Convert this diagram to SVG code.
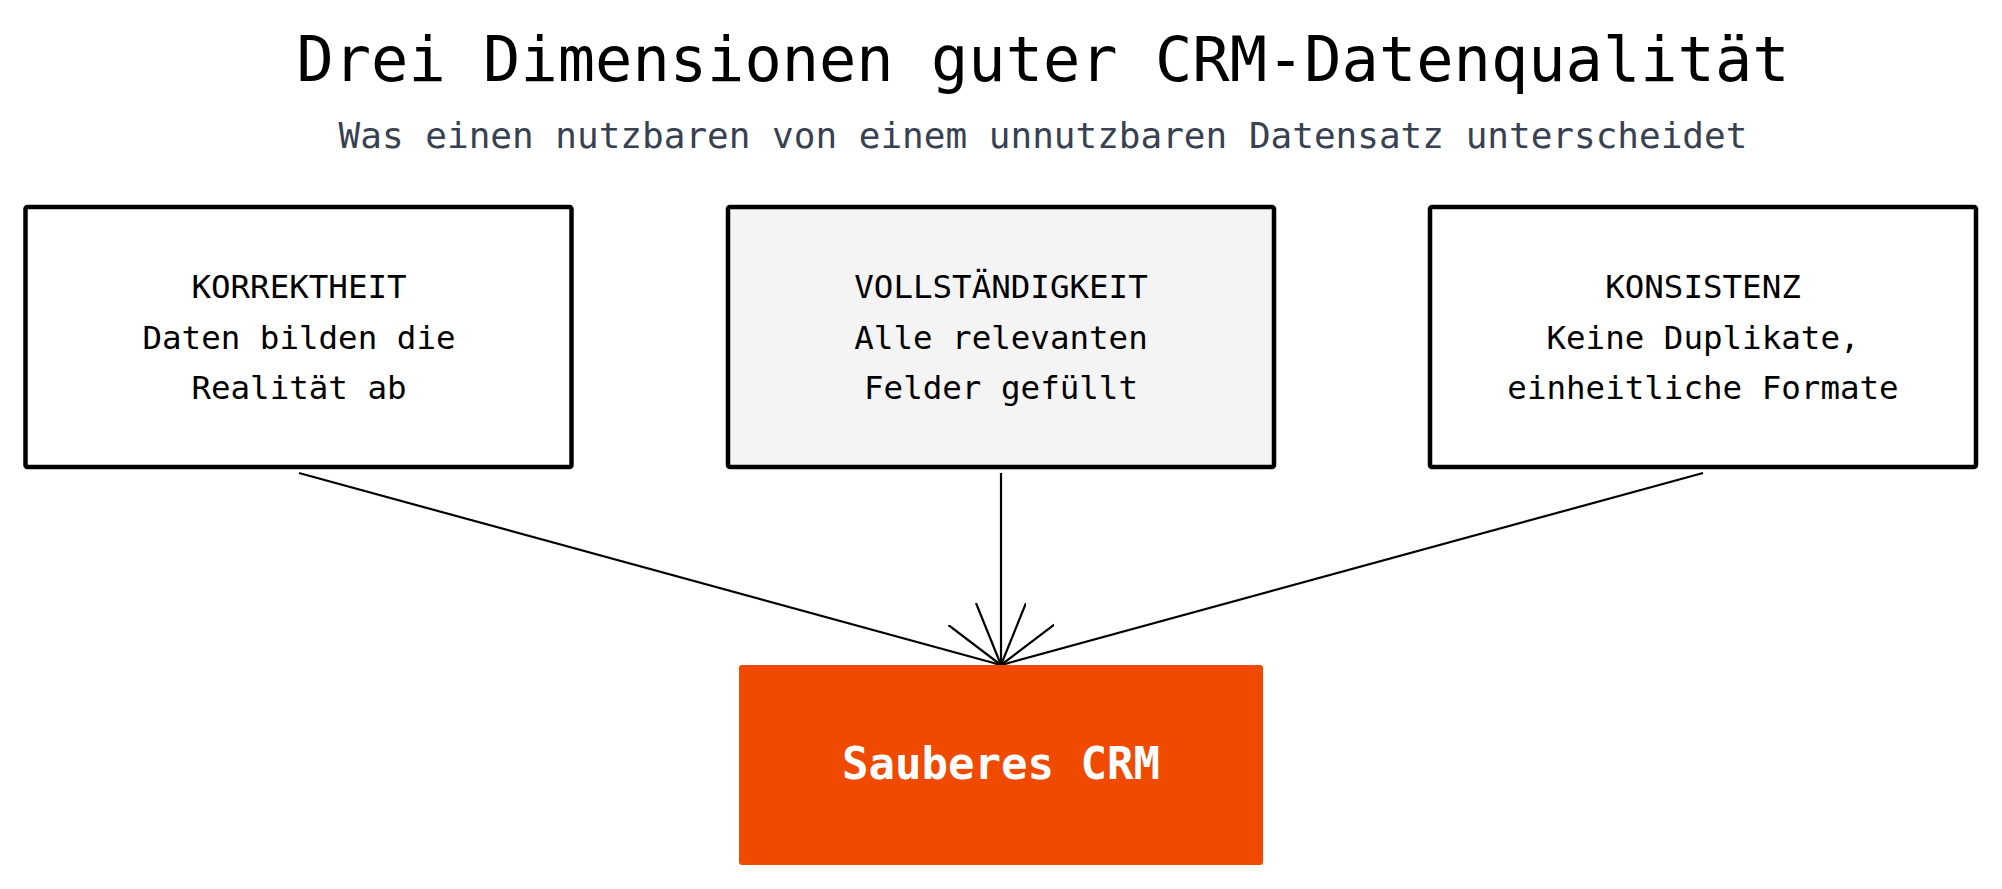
<svg xmlns="http://www.w3.org/2000/svg" width="2002" height="889" viewBox="0 0 2002 889">
<style>
text{font-family:"DejaVu Sans Mono","Liberation Mono",monospace;text-anchor:middle}
.t{font-size:62px;fill:#000}
.s{font-size:36px;fill:#374151}
.b{font-size:32.5px;fill:#000}
.box{stroke:#000;stroke-width:4.5;stroke-linejoin:round}
.c{stroke:#000;stroke-width:2.2;fill:none}
</style>
<defs>
<marker id="a" markerUnits="userSpaceOnUse" markerWidth="80" markerHeight="80" refX="62" refY="25" orient="auto">
<path d="M0,0 L62,25 L0,50" fill="none" stroke="#000" stroke-width="2.2"/>
</marker>
</defs>
<rect width="2002" height="889" fill="#fff"/>
<text class="t" x="1043" y="81">Drei Dimensionen guter CRM-Datenqualität</text>
<text class="s" x="1043" y="148">Was einen nutzbaren von einem unnutzbaren Datensatz unterscheidet</text>
<g id="connectors">
<line class="c" x1="299" y1="473" x2="1001" y2="665" marker-end="url(#a)"/>
<line class="c" x1="1001" y1="473" x2="1001" y2="665" marker-end="url(#a)"/>
<line class="c" x1="1703" y1="473" x2="1001" y2="665" marker-end="url(#a)"/>
</g>
<g id="korrektheit">
<rect class="box" x="25.5" y="207" width="546" height="260" fill="#fff" rx="2"/>
<text class="b" x="299" y="298">KORREKTHEIT</text>
<text class="b" x="299" y="349">Daten bilden die</text>
<text class="b" x="299" y="399">Realität ab</text>
</g>
<g id="vollstaendigkeit">
<rect class="box" x="728" y="207" width="546" height="260" fill="#f4f4f4" rx="2"/>
<text class="b" x="1001" y="298">VOLLSTÄNDIGKEIT</text>
<text class="b" x="1001" y="349">Alle relevanten</text>
<text class="b" x="1001" y="399">Felder gefüllt</text>
</g>
<g id="konsistenz">
<rect class="box" x="1430" y="207" width="546" height="260" fill="#fff" rx="2"/>
<text class="b" x="1703" y="298">KONSISTENZ</text>
<text class="b" x="1703" y="349">Keine Duplikate,</text>
<text class="b" x="1703" y="399">einheitliche Formate</text>
</g>
<g id="crm">
<rect x="739" y="665" width="524" height="200" fill="#f04a00" rx="3"/>
<text x="1001" y="779" style="font-size:44px;font-weight:bold;fill:#fff">Sauberes CRM</text>
</g>
</svg>
